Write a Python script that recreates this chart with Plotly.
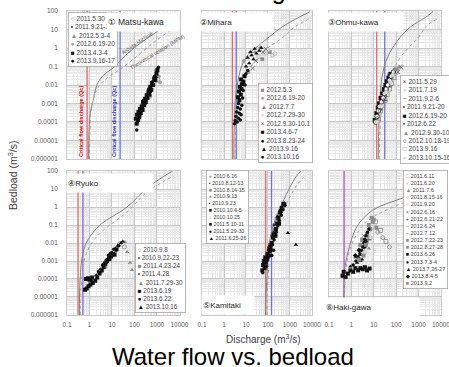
import plotly.graph_objects as go

W, H = 449, 367
FONT = "Liberation Sans, Arial, DejaVu Sans, Noto Sans CJK JP"

# ---------------- axis ticks ----------------
x_tick_vals = [0.1, 1, 10, 100, 1000, 10000]
x_tick_text = ["0.1", "1", "10", "100", "1000", "10000"]
y_tick_vals = [1e-6, 1e-5, 1e-4, 1e-3, 1e-2, 1e-1, 1, 10, 100]
y_tick_text = ["0.000001", "0.00001", "0.0001", "0.001", "0.01", "0.1", "1", "10", "100"]

site_names = ["① Matsu-kawa", "②Mihara", "③Ohmu-kawa", "④Ryuko", "⑤Kamitaki", "⑥Haki-gawa"]

# critical flow discharge (m3/s) per site
crit_red = [0.78, 2.4, 13.5, 0.31, 78, 0.47]
crit_blue = [23, 3.6, 31, 0.51, 145, 0.47]

# ---------------- theoretical curves ----------------
p1_am_x = [0.89, 0.93, 1.0, 1.12, 1.41, 2.14, 4.0, 13.5, 40, 158, 794, 3981, 10000]
p1_am_y = [1e-6, 1e-5, 1e-4, 4e-4, 1.26e-3, 0.01, 0.032, 0.1, 0.4, 1.6, 6.3, 22, 45]
p1_mpm_x = [1.0, 1.05, 1.2, 2.0, 5.0, 20, 100, 794, 3981, 10000]
p1_mpm_y = [1e-6, 3.2e-5, 5e-4, 5e-3, 0.02, 0.063, 0.28, 2.2, 8.9, 17.8]

p2_am_x = [2.82, 2.88, 3.16, 3.98, 6.3, 12.6, 27.5, 100, 398, 1660, 7943]
p2_am_y = [1e-6, 3.2e-5, 1e-3, 0.01, 0.1, 0.45, 1.0, 3.5, 12.6, 35, 89]
p2_mpm_x = [3.16, 3.55, 5.0, 10, 79, 398, 1660, 7943]
p2_mpm_y = [1e-6, 1e-4, 3.2e-3, 0.04, 0.8, 3.2, 13.8, 40]

p3_am_x = [15.8, 16.6, 18.6, 25.1, 51, 295, 2512, 4467]
p3_am_y = [1e-6, 3.2e-5, 1.6e-3, 0.045, 0.54, 9.3, 54, 95]
p3_mpm_x = [17.8, 20, 28, 51, 158, 1000, 2512, 7943]
p3_mpm_y = [1e-6, 1e-4, 3.2e-3, 0.027, 0.32, 4, 17.4, 40]

p4_am_x = [0.355, 0.38, 0.51, 0.85, 2.95, 46.8, 363, 1995, 5012]
p4_am_y = [1e-6, 8.9e-5, 2.8e-3, 0.0148, 0.1, 1.0, 11.2, 50, 100]
p4_mpm_x = [0.4, 0.45, 0.63, 1.26, 4.0, 46.8, 363, 5012]
p4_mpm_y = [1e-6, 1e-4, 1.6e-3, 0.01, 0.05, 0.52, 6.8, 50]

p5_am_x = [79, 79, 100, 129, 214, 603, 1862, 3162]
p5_am_y = [1e-6, 5e-6, 1e-3, 0.021, 0.19, 3.6, 47, 100]
p5_mpm_x = [89, 100, 141, 251, 708, 1995, 3981]
p5_mpm_y = [1e-6, 1e-4, 6.3e-3, 0.1, 1.6, 15.8, 40]

p6_am_x = [0.468, 0.468, 0.5, 0.69, 1.74, 9.1, 195, 3162]
p6_am_y = [1e-6, 3.2e-5, 3.2e-4, 2.8e-3, 0.079, 0.68, 3.16, 12.6]
p6_mpm_x = [0.5, 0.52, 0.79, 2.5, 9.1, 195, 3162]
p6_mpm_y = [1e-6, 1e-4, 3.2e-3, 0.063, 0.275, 1.66, 6.3]

# ---------------- observations ----------------
# 1 Matsu-kawa
p1_names = ["2011.5.30", "2011.9.21-22", "2012.5.3-4", "2012.6.19-20", "2013.4.3-4", "2013.9.16-17"]
p1_x = [
    [480, 1100],
    [140, 200, 280, 400, 580],
    [170, 330, 700],
    [1350, 1200, 900],
    [115, 125, 130, 145, 150, 165, 175, 190, 210, 230, 240, 270, 290, 320, 350, 380, 420, 460, 500, 560, 600, 680, 750, 850, 950, 1050],
    [126, 135, 160, 185, 220, 260, 300, 360, 430, 520, 640, 780, 900, 1000, 1150],
]
p1_y = [
    [0.0025, 0.02],
    [0.00022, 0.00038, 0.0013, 0.004, 0.009],
    [0.0003, 0.0022, 0.016],
    [0.014, 0.03, 0.06],
    [1.5e-4, 8e-5, 2.5e-4, 1.3e-4, 3.5e-4, 2e-4, 5e-4, 3e-4, 7e-4, 4.5e-4, 1.2e-3, 8e-4, 1.8e-3, 1.2e-3, 2.8e-3, 2e-3, 4.5e-3, 3e-3, 8e-3, 5.5e-3, 1.3e-2, 1e-2, 2.2e-2, 1.8e-2, 4e-2, 6.5e-2],
    [3.7e-5, 1e-4, 1.6e-4, 4e-4, 6e-4, 1.5e-3, 1e-3, 2.2e-3, 6e-3, 4.5e-3, 1.5e-2, 3e-2, 2.6e-2, 5e-2, 0.09],
]
p1_sty = ["oc", "dot", "tri", "gc", "sq", "bd"]

# 2 Mihara
p2_names = ["2012.5.3", "2012.6.19-20", "2012.7.7", "2012.7.29-30", "2012.9.30-10.1", "2013.4.6-7", "2013.8.23-24", "2013.9.16", "2013.10.16"]
p2_x = [
    [55, 120],
    [9, 13, 8],
    [45, 25, 18],
    [35, 70, 100, 160, 210],
    [20, 28, 60, 80],
    [5, 4.3, 5.8, 4.8, 6.2, 5.2, 6.5, 7.5, 6, 8.5],
    [3.0, 6.0, 6.5, 7, 7.5, 9, 10, 12],
    [10, 14, 12, 18, 22, 30, 40, 50, 16, 25],
    [3.2, 4.0, 3.5, 4.5, 5.5, 3.8, 5, 4.2, 5.5, 4.6],
]
p2_y = [
    [0.25, 0.6],
    [0.03, 0.05, 0.2],
    [1.1, 0.6, 0.4],
    [0.35, 0.5, 0.8, 0.4, 0.5],
    [0.08, 0.2, 0.6, 0.9],
    [1.5e-3, 2.2e-3, 3e-3, 4.5e-3, 6e-3, 8e-3, 1.1e-2, 1.5e-2, 2e-2, 3e-2],
    [8e-5, 2.5e-4, 8e-4, 2e-3, 5e-3, 1e-2, 4e-2, 6e-2],
    [0.1, 0.15, 0.3, 0.4, 0.25, 0.5, 0.7, 1.0, 0.6, 0.9],
    [1.2e-4, 1e-4, 2e-4, 1.6e-4, 1.3e-4, 3.5e-4, 3e-4, 6e-4, 5e-4, 1e-3],
]
p2_sty = ["gsq", "gc", "tri", "lc", "x", "sq", "bd", "btri", "bd"]

# 3 Ohmu-kawa
p3_names = ["2011.5.29", "2011.7.19", "2011.9.2-6", "2011.9.21-20", "2012.6.19-20", "2012.6.22", "2012.9.30-10.1", "2012.10.18-19", "2013.9.16", "2013.10.15-16"]
p3_x = [
    [150, 170, 120],
    [18, 65],
    [28, 45],
    [22, 35, 58],
    [11, 13, 15, 17, 20, 24, 28, 33, 38, 45, 55],
    [13, 19, 27, 40, 48],
    [110, 90, 130],
    [12, 14, 16, 18, 22, 26, 30, 36, 42, 50, 60, 75],
    [16, 20, 25, 32, 40, 50, 62, 80, 100],
    [14, 22, 35, 55, 70],
]
p3_y = [
    [0.1, 0.09, 0.05],
    [3e-4, 2e-2],
    [1.5e-3, 8e-3],
    [5e-4, 2.5e-3, 2.2e-2],
    [1.3e-4, 3e-4, 6e-4, 1e-3, 2e-3, 3.5e-3, 6e-3, 1e-2, 1.6e-2, 2.5e-2, 4e-2],
    [1.6e-4, 1.2e-3, 4e-3, 1.3e-2, 3.5e-2],
    [0.07, 0.08, 0.09],
    [1e-4, 2e-4, 4e-4, 7e-4, 1.2e-3, 2e-3, 3.5e-3, 6e-3, 1e-2, 1.8e-2, 3e-2, 5e-2],
    [1.5e-4, 4e-4, 8e-4, 1.5e-3, 3e-3, 6e-3, 1.2e-2, 2.5e-2, 5e-2],
    [1e-4, 7e-4, 4e-3, 1.5e-2, 3.5e-2],
]
p3_sty = ["x", "lc", "dash", "dot", "sq", "ssq", "tri", "ocb", "osq", "lc"]

# 4 Ryuko
p4_names = ["2010.9.8", "2010.9.22-23", "2011.4.23-24", "2011.4.28", "2011.7.29-30", "2013.6.19", "2013.6.22", "2013.10.16"]
p4_x = [
    [22, 35],
    [9, 15],
    [5, 8],
    [3, 6],
    [38, 47, 63, 78],
    [0.63, 0.75, 0.9, 1.1, 1.4, 1.8, 2.2, 2.8, 3.5, 4.2, 5, 6, 7.5, 9, 11, 13, 16, 0.7, 0.85, 1.0, 1.3],
    [1.2, 2.5, 3.8, 5.5, 7, 12, 20],
    [2, 3, 4.5, 6.5, 8, 10, 14, 18, 25, 30],
]
p4_y = [
    [9e-3, 6e-3],
    [3e-3, 3.5e-3],
    [5e-4, 1.2e-3],
    [2.2e-4, 8e-4],
    [1.15e-2, 3.2e-3, 8e-4, 3.2e-4],
    [2.5e-5, 3e-5, 4e-5, 5e-5, 6e-5, 8e-5, 1.2e-4, 2e-4, 3e-4, 4.5e-4, 7e-4, 1e-3, 1.3e-3, 1.8e-3, 2.5e-3, 2.2e-3, 4.5e-3, 1e-4, 1.1e-4, 9e-5, 1.2e-4],
    [8e-5, 2.5e-4, 6e-4, 1.1e-3, 2e-3, 4.5e-3, 7e-3],
    [1.6e-4, 3.5e-4, 8e-4, 1.4e-3, 2.5e-3, 3e-3, 5e-3, 7e-3, 1e-2, 1.2e-2],
]
p4_sty = ["oc", "dot", "gsq", "dot", "tri", "sq", "bd", "btri"]

# 5 Kamitaki
p5_names = ["2010.6.16", "2010.8.12-13", "2010.8.14-15", "2010.9.13", "2010.9.23", "2010.10.4-5", "2010.10.25", "2011.5.10-11", "2011.5.29-30", "2011.6.25-26"]
p5_x = [
    [130, 210],
    [100, 150],
    [250, 170],
    [90, 300],
    [120, 190],
    [115, 180, 220, 320, 380],
    [160, 260],
    [55, 60, 70, 65, 80, 75, 90, 95, 110, 120, 130, 150, 170, 200, 230, 260, 300, 350, 420, 500],
    [58, 85, 100, 140, 160, 190, 240, 280, 330, 400, 480, 600, 550, 150, 180],
    [1860, 800, 270],
]
p5_y = [
    [1.2e-2, 6e-2],
    [4e-3, 2.5e-2],
    [0.2, 0.05],
    [2e-3, 0.4],
    [8e-3, 0.1],
    [5e-3, 3e-2, 2.5e-2, 0.12, 0.6],
    [1.5e-2, 0.08],
    [3e-4, 6e-4, 4e-4, 1e-3, 8e-4, 1.6e-3, 1.2e-3, 2.5e-3, 2e-3, 3.5e-3, 6e-3, 1e-2, 2e-2, 3.5e-2, 6e-2, 0.12, 0.25, 0.5, 0.9, 1.5],
    [2.2e-4, 5e-4, 1.5e-3, 4e-3, 8e-3, 1.5e-2, 4e-2, 9e-2, 0.18, 0.35, 0.7, 1.2, 1.6, 2e-3, 4e-3],
    [8e-3, 0.036, 0.3],
]
p5_sty = ["gc", "dot", "gsq", "gc", "ssq", "sq", "lc", "sq", "bd", "btri"]

# 6 Haki-gawa
p6_names = ["2011.6.11", "2011.6.20", "2011.7.6", "2011.8.15-16", "2011.9.20", "2012.6.16", "2012.6.21-22", "2012.6.24", "2012.7.12", "2012.7.22-23", "2012.8.27-28", "2013.6.26", "2013.7.3-4", "2013.7.26-27", "2013.8.4-5", "2013.9.2"]
p6_x = [
    [12, 20, 35],
    [4],
    [6],
    [25, 50, 15],
    [7],
    [3.5],
    [5.5],
    [2.8],
    [1.8],
    [2.5, 3, 5, 7, 9, 6],
    [10, 13, 8],
    [0.4, 0.45, 0.55, 0.7, 0.9, 1.2, 1.5, 2, 2.5, 3.2, 4, 5, 6.5],
    [1.2, 1.6, 2.0, 2.4, 2.8, 3.2, 3.6, 4.0, 4.5, 5.2, 6],
    [0.9, 1.8, 3, 2.5],
    [1.5, 2.2, 3.8, 4.2],
    [2.2, 3.5, 4.5],
]
p6_y = [
    [0.15, 0.05, 0.012],
    [3e-3],
    [5e-3],
    [0.02, 6e-3, 0.04],
    [2e-2],
    [2.5e-2],
    [1.5e-2],
    [2e-3],
    [1.5e-3],
    [8e-3, 1.5e-2, 0.03, 0.06, 0.15, 0.1],
    [0.2, 0.07, 0.25],
    [1.5e-4, 2.5e-4, 1.3e-4, 2e-4, 3e-4, 2.5e-4, 4e-4, 3e-4, 4e-4, 3.5e-4, 4.5e-4, 3e-4, 3.8e-4],
    [6e-4, 1e-3, 1.6e-3, 2.5e-3, 4e-3, 6e-3, 1e-2, 1.6e-2, 2.5e-2, 4e-2, 6e-2],
    [5e-4, 8e-4, 1.2e-3, 1e-3],
    [2e-3, 4e-3, 6e-3, 1.2e-2],
    [1.2e-3, 2e-3, 8e-3],
]
p6_sty = ["osq", "lc", "tri", "oc", "lc", "x", "plus", "dash", "dash", "gsq", "gsq", "sq", "bd", "btri", "dia", "gsq"]

# ---------------- styles ----------------
STY = {
    "oc":   dict(symbol="circle-open", color="#7f7f7f", size=4, line=dict(width=0.8, color="#7f7f7f")),
    "ocb":  dict(symbol="circle", color="white", size=4.5, line=dict(width=0.8, color="#111111")),
    "dot":  dict(symbol="circle", color="#3a3a3a", size=2.5, line=dict(width=0)),
    "tri":  dict(symbol="triangle-up", color="#8c8c8c", size=4, line=dict(width=0)),
    "btri": dict(symbol="triangle-up", color="#111111", size=4, line=dict(width=0)),
    "gc":   dict(symbol="circle", color="#a0a0a0", size=4, line=dict(width=0)),
    "sq":   dict(symbol="square", color="#111111", size=4, line=dict(width=0)),
    "ssq":  dict(symbol="square", color="#333333", size=3, line=dict(width=0)),
    "bd":   dict(symbol="circle", color="#111111", size=3.5, line=dict(width=0)),
    "gsq":  dict(symbol="square", color="#8c8c8c", size=4, line=dict(width=0)),
    "osq":  dict(symbol="square-open", color="#7f7f7f", size=4, line=dict(width=0.8, color="#7f7f7f")),
    "x":    dict(symbol="x-thin-open", color="#606060", size=4, line=dict(width=0.8, color="#606060")),
    "lc":   dict(symbol="circle", color="#dcdcdc", size=4, line=dict(width=0.5, color="#a8a8a8")),
    "dia":  dict(symbol="diamond", color="#111111", size=4, line=dict(width=0)),
    "dash": dict(symbol="line-ew-open", color="#333333", size=5, line=dict(width=1, color="#333333")),
    "plus": dict(symbol="cross-thin-open", color="#333333", size=5, line=dict(width=0.8, color="#333333")),
}
GLYPH = {"oc": "○", "ocb": "○", "dot": "•", "tri": "▲", "btri": "▲", "gc": "●", "sq": "■",
         "ssq": "▪", "bd": "●", "gsq": "■", "osq": "□", "x": "×", "lc": "●", "dia": "◆",
         "dash": "−", "plus": "+"}

panels = [
    (p1_names, p1_x, p1_y, p1_sty, p1_am_x, p1_am_y, p1_mpm_x, p1_mpm_y),
    (p2_names, p2_x, p2_y, p2_sty, p2_am_x, p2_am_y, p2_mpm_x, p2_mpm_y),
    (p3_names, p3_x, p3_y, p3_sty, p3_am_x, p3_am_y, p3_mpm_x, p3_mpm_y),
    (p4_names, p4_x, p4_y, p4_sty, p4_am_x, p4_am_y, p4_mpm_x, p4_mpm_y),
    (p5_names, p5_x, p5_y, p5_sty, p5_am_x, p5_am_y, p5_mpm_x, p5_mpm_y),
    (p6_names, p6_x, p6_y, p6_sty, p6_am_x, p6_am_y, p6_mpm_x, p6_mpm_y),
]

# ---------------- layout geometry (pixels) ----------------
cols_px = [(67, 179.5), (202, 312), (329, 441)]
rows_py = [(11, 159), (171, 315)]


def PX(px):
    return px / W


def PY(py):
    return 1 - py / H


fig = go.Figure()
layout = dict(
    width=W, height=H, margin=dict(l=0, r=0, t=0, b=0, autoexpand=False),
    paper_bgcolor="white", plot_bgcolor="white", showlegend=False,
    font=dict(family=FONT, color="#404040"),
)
annotations = []

for k, (names, xs, ys, stys, amx, amy, mpx, mpy) in enumerate(panels):
    r, c = divmod(k, 3)
    sfx = "" if k == 0 else str(k + 1)
    xa, ya = "x" + sfx, "y" + sfx
    x0, x1 = cols_px[c]
    y0, y1 = rows_py[r]
    layout["xaxis" + sfx] = dict(
        type="log", range=[-1.001, 4.003], domain=[PX(x0), PX(x1)], anchor=ya, automargin=False,
        tickmode="array", tickvals=x_tick_vals, ticktext=x_tick_text,
        showticklabels=(r == 1), ticks="", ticklabelstandoff=3, ticklabeloverflow="allow",
        tickfont=dict(size=6.5, color="#595959"),
        showgrid=True, gridcolor="#c8c8c8", gridwidth=0.8,
        minor=dict(dtick="D1", showgrid=True, gridcolor="#e9e9e9", gridwidth=0.6, ticks=""),
        showline=True, linecolor="#c8c8c8", linewidth=0.8, mirror=True, zeroline=False,
    )
    layout["yaxis" + sfx] = dict(
        type="log", range=[-6.001, 2.001], domain=[PY(y1), PY(y0)], anchor=xa, automargin=False,
        tickmode="array", tickvals=y_tick_vals, ticktext=y_tick_text,
        showticklabels=(c == 0), ticks="", ticklabelstandoff=7, ticklabeloverflow="allow",
        tickfont=dict(size=6.5, color="#595959"),
        showgrid=True, gridcolor="#c8c8c8", gridwidth=0.8,
        minor=dict(dtick="D1", showgrid=True, gridcolor="#e9e9e9", gridwidth=0.6, ticks=""),
        showline=True, linecolor="#c8c8c8", linewidth=0.8, mirror=True, zeroline=False,
    )

    # critical discharge lines
    if crit_red[k] == crit_blue[k]:
        fig.add_trace(go.Scatter(x=[crit_red[k], crit_red[k]], y=[1e-6, 100], mode="lines",
                                 line=dict(color="#b44cc4", width=1.3), xaxis=xa, yaxis=ya, hoverinfo="skip"))
    else:
        fig.add_trace(go.Scatter(x=[crit_red[k], crit_red[k]], y=[1e-6, 100], mode="lines",
                                 line=dict(color="#e36b6b", width=1.3), xaxis=xa, yaxis=ya, hoverinfo="skip"))
        fig.add_trace(go.Scatter(x=[crit_blue[k], crit_blue[k]], y=[1e-6, 100], mode="lines",
                                 line=dict(color="#6d6de6", width=1.3), xaxis=xa, yaxis=ya, hoverinfo="skip"))

    # theoretical curves
    fig.add_trace(go.Scatter(x=amx, y=amy, mode="lines", line=dict(color="#808080", width=1, shape="spline"),
                             xaxis=xa, yaxis=ya, hoverinfo="skip"))
    fig.add_trace(go.Scatter(x=mpx, y=mpy, mode="lines",
                             line=dict(color="#a0a0a0", width=1, dash="dot", shape="spline"),
                             xaxis=xa, yaxis=ya, hoverinfo="skip"))

    # observations
    for nm, xv, yv, s in zip(names, xs, ys, stys):
        fig.add_trace(go.Scatter(x=xv, y=yv, mode="markers", name=nm, marker=STY[s], xaxis=xa, yaxis=ya))

# ---------------- legends (as text boxes) ----------------
leg_pos = [(68, 12, 6.5), (258, 83, 6.5), (400, 75, 6.5), (135, 243, 6.3), (206, 170, 5.3), (403, 170, 5.5)]
for k, (names, xs, ys, stys, *_rest) in enumerate(panels):
    lines = []
    for nm, s in zip(names, stys):
        st = STY[s]
        gc = st["color"] if st["color"] != "white" else st["line"]["color"]
        lines.append(f"<span style='color:{gc}'>{GLYPH[s]}</span> {nm}")
    lx, ly, fs = leg_pos[k]
    annotations.append(dict(
        x=PX(lx), y=PY(ly), xref="paper", yref="paper", xanchor="left", yanchor="top",
        text="<br>".join(lines), showarrow=False, align="left",
        font=dict(size=fs, color="#404040", family=FONT),
        bgcolor="white", bordercolor="#a6a6a6", borderwidth=0.8, borderpad=2,
    ))

# ---------------- site labels ----------------
site_pos = [(106, 22, 70, 8.5), (198, 22, 72, 8), (326, 22, 74, 8), (66, 183, 84, 8), (201, 305, 50, 8), (324, 307, 92, 8)]
for k, nm in enumerate(site_names):
    sx, sy, sw, fs = site_pos[k]
    annotations.append(dict(
        x=PX(sx), y=PY(sy), xref="paper", yref="paper", xanchor="left", yanchor="middle",
        text=nm, showarrow=False, align="left", width=sw, height=16,
        font=dict(size=fs, color="#262626", family=FONT),
        bgcolor="white", borderpad=1,
    ))

# ---------------- panel-1 extra labels ----------------
def center_note(px, py, text, size, color, angle=0):
    return dict(x=PX(px), y=PY(py), xref="paper", yref="paper", xanchor="center", yanchor="middle",
                text=text, textangle=angle, showarrow=False, font=dict(size=size, color=color, family=FONT))


annotations += [
    center_note(81, 122, "<b>Critical flow discharge (Qc)</b>", 5.5, "#e00000", -90),
    center_note(114, 122, "<b>Critical flow discharge (Qc)</b>", 5.5, "#1f2fbf", -90),
    center_note(137, 43, "Ashida-Michiue", 5.3, "#595959", -34),
    center_note(157, 52, "Theoretical relation (MPM)", 5.3, "#595959", -31),
]

# ---------------- titles ----------------
annotations += [
    center_note(250, -10, "Monitoring site", 25, "#000000"),
    center_note(12, 176, "Bedload (m<sup>3</sup>/s)", 10.5, "#404040", -90),
    center_note(263, 339, "Discharge (m<sup>3</sup>/s)", 10, "#404040"),
    center_note(233, 356, "Water flow vs. bedload", 24, "#000000"),
]

layout["annotations"] = annotations
fig.update_layout(**layout)
fig.write_html("out.html", config={"displayModeBar": False},
               post_script="document.body.style.margin='0';document.body.style.overflow='hidden';")
